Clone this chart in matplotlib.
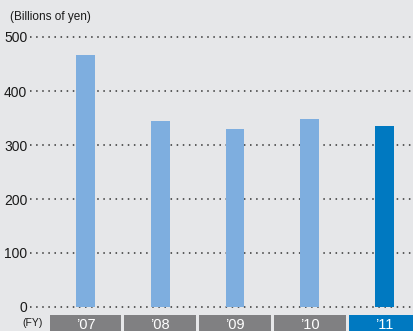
import matplotlib.pyplot as plt
import numpy as np

years = ["’07", "’08", "’09", "’10", "’11"]
sales = [467, 344, 330, 348, 335]
yticks = [0, 100, 200, 300, 400, 500]

W, H = 413, 331
BG = '#e6e7e9'
LIGHT = '#7eaedf'
DARK = '#0079c1'
GREY = '#808082'

plt.rcParams['font.family'] = ['Liberation Sans', 'DejaVu Sans']


def px(x0, y0, x1, y1):
    # pixel box (from top-left) -> figure fraction rect
    return [x0 / W, 1 - y1 / H, (x1 - x0) / W, (y1 - y0) / H]


def main():
    fig = plt.figure(figsize=(W / 100, H / 100), dpi=100)
    fig.patch.set_facecolor(BG)

    x = np.arange(len(years))
    xlim = ((30 - 85.5) / 74.75, (413 - 85.5) / 74.75)

    # main bar area
    ax = fig.add_axes(px(30, 37, 413, 307))
    ax.set_facecolor(BG)
    colors = [LIGHT] * (len(years) - 1) + [DARK]
    ax.bar(x, sales, width=0.254, color=colors, zorder=3)
    ax.set_xlim(*xlim)
    ax.set_ylim(0, 500)
    for v in yticks:
        ax.axhline(v, color='#333333', lw=1.1, linestyle=(0, (1, 3)), zorder=1, clip_on=False)
    for s in ax.spines.values():
        s.set_visible(False)
    ax.set_xticks([])
    ax.set_yticks(yticks)
    ax.tick_params(axis='y', length=0, pad=2, labelsize=10, labelcolor='#1a1a1a')

    # year strip under the bars
    bx = fig.add_axes(px(30, 315, 413, 331))
    bx.set_facecolor(BG)
    bx.bar(x, 1, width=0.963, color=[GREY] * (len(years) - 1) + [DARK], align='center')
    bx.set_xlim(*xlim)
    bx.set_ylim(0, 1)
    bx.axis('off')
    for i, yr in enumerate(years):
        bx.text(i, 0.4, yr, color='white', ha='center', va='center', fontsize=10.5)

    fig.text(43 / W, 1 - 323 / H, '(FY)', ha='right', va='center', fontsize=7.5, color='#1a1a1a')
    fig.text(10 / W, 1 - 17 / H, '(Billions of yen)', ha='left', va='center', fontsize=8.5, color='#1a1a1a')

    fig.savefig('out.png', dpi=100, facecolor=BG)


if __name__ == '__main__':
    main()
